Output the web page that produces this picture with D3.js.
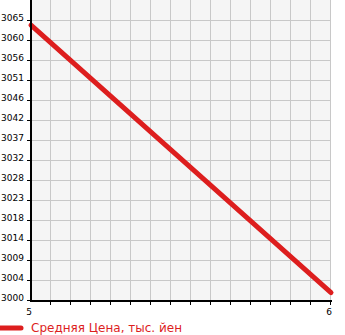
<!DOCTYPE html>
<html>
<head>
<meta charset="utf-8">
<script src="https://cdn.jsdelivr.net/npm/d3@7"></script>
<style>
  body { margin: 0; background: #fff; }
  svg { display: block; font-family: "DejaVu Sans", sans-serif; }
</style>
</head>
<body>
<div id="chart"></div>
<script>
// data
var xValues = [5, 6];
var priceValues = [3063.8, 3001.7];
var yTickLabels = ["3000", "3004", "3009", "3014", "3018", "3023", "3028", "3032",
                   "3037", "3042", "3046", "3051", "3056", "3060", "3065"];
var xTickLabels = ["5", "6"];
var legendLabel = "Средняя Цена, тыс. йен";

var width = 345, height = 335;
var plotLeft = 31, plotRight = 331, plotTop = 0, plotBottom = 300;

var svg = d3.select("#chart").append("svg")
    .attr("width", width)
    .attr("height", height);

var x = d3.scaleLinear().domain([5, 6]).range([plotLeft, plotRight]);
// tick 3065 sits one grid step below the top
var yStep = (3065 - 3000) / (yTickLabels.length - 1);
var y = d3.scaleLinear().domain([3000, 3000 + yStep * yTickLabels.length]).range([plotBottom, plotTop]);

// plot background
svg.append("rect")
    .attr("x", plotLeft).attr("y", plotTop)
    .attr("width", plotRight - plotLeft).attr("height", plotBottom - plotTop)
    .attr("fill", "#f5f5f5");

// grid
var xGrid = d3.range(0, 16).map(function (k) { return 5 + k / 15; });
var yTicks = yTickLabels.map(function (t, i) { return 3000 + i * yStep; });

svg.selectAll(".vgrid").data(xGrid.slice(1)).enter().append("line")
    .attr("x1", function (d) { return Math.round(x(d)) - 0.5; })
    .attr("x2", function (d) { return Math.round(x(d)) - 0.5; })
    .attr("y1", plotTop).attr("y2", plotBottom)
    .attr("stroke", "#c8c8c8").attr("stroke-width", 1);

svg.selectAll(".hgrid").data(yTicks.slice(1)).enter().append("line")
    .attr("x1", plotLeft).attr("x2", plotRight)
    .attr("y1", function (d) { return Math.round(y(d)) + 0.5; })
    .attr("y2", function (d) { return Math.round(y(d)) + 0.5; })
    .attr("stroke", "#c8c8c8").attr("stroke-width", 1);

// series line
var line = d3.line()
    .x(function (d, i) { return x(xValues[i]); })
    .y(function (d) { return y(d); });

svg.append("path")
    .datum(priceValues)
    .attr("d", line)
    .attr("fill", "none")
    .attr("stroke", "#dd1e1e")
    .attr("stroke-width", 5)
    .attr("stroke-linecap", "round");

// axes lines
svg.append("line")
    .attr("x1", plotLeft).attr("x2", plotLeft)
    .attr("y1", plotTop).attr("y2", plotBottom + 2)
    .attr("stroke", "#000").attr("stroke-width", 2);
svg.append("line")
    .attr("x1", plotLeft - 1).attr("x2", plotRight + 1)
    .attr("y1", plotBottom + 1).attr("y2", plotBottom + 1)
    .attr("stroke", "#000").attr("stroke-width", 2);

// y ticks and labels
svg.selectAll(".ytick").data(yTicks).enter().append("line")
    .attr("x1", plotLeft - 4).attr("x2", plotLeft)
    .attr("y1", function (d) { return Math.round(y(d)) + 0.5; })
    .attr("y2", function (d) { return Math.round(y(d)) + 0.5; })
    .attr("stroke", "#000").attr("stroke-width", 1);

svg.selectAll(".ylabel").data(yTickLabels).enter().append("text")
    .attr("x", plotLeft - 7)
    .attr("y", function (d, i) { return Math.round(y(yTicks[i])) + 0.5; })
    .attr("text-anchor", "end")
    .attr("font-size", "9px")
    .attr("fill", "#000")
    .text(function (d) { return d; });

// x ticks and labels
svg.selectAll(".xtick").data(xGrid.slice(1)).enter().append("line")
    .attr("x1", function (d) { return Math.round(x(d)) - 0.5; })
    .attr("x2", function (d) { return Math.round(x(d)) - 0.5; })
    .attr("y1", plotBottom + 1).attr("y2", plotBottom + 5)
    .attr("stroke", "#000").attr("stroke-width", 1);

svg.selectAll(".xlabel").data(xTickLabels).enter().append("text")
    .attr("x", function (d, i) { return x(xValues[i]) + 1; })
    .attr("y", plotBottom + 15)
    .attr("text-anchor", "end")
    .attr("font-size", "9px")
    .attr("fill", "#000")
    .text(function (d) { return d; });

// legend
svg.append("line")
    .attr("x1", 0).attr("x2", 21)
    .attr("y1", 328).attr("y2", 328)
    .attr("stroke", "#dd1e1e").attr("stroke-width", 5)
    .attr("stroke-linecap", "round");

svg.append("text")
    .attr("x", 31).attr("y", 332)
    .attr("font-size", "12px")
    .attr("fill", "#dd1e1e")
    .text(legendLabel);
</script>
</body>
</html>
